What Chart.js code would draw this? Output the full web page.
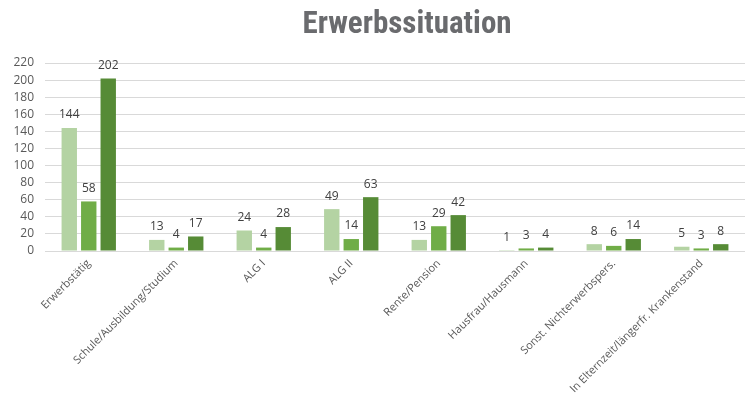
<!DOCTYPE html>
<html>
<head>
<meta charset="utf-8">
<script src="https://cdn.jsdelivr.net/npm/chart.js@4/dist/chart.umd.min.js"></script>
<style>
  html, body { margin: 0; padding: 0; background: #fff; }
  #wrap { width: 745px; height: 400px; }
</style>
</head>
<body>
<div id="wrap"><canvas id="c" width="745" height="400"></canvas></div>
<script>
const categories = [
  "Erwerbstätig",
  "Schule/Ausbildung/Studium",
  "ALG I",
  "ALG II",
  "Rente/Pension",
  "Hausfrau/Hausmann",
  "Sonst. Nichterwerbspers.",
  "In Elternzeit/längerfr. Krankenstand"
];
const seriesA = [144, 13, 24, 49, 13, 1, 8, 5];
const seriesB = [58, 4, 4, 14, 29, 3, 6, 3];
const seriesC = [202, 17, 28, 63, 42, 4, 14, 8];
const yTicks = [0, 20, 40, 60, 80, 100, 120, 140, 160, 180, 200, 220];
const titleText = 'Erwerbssituation';

const valueLabels = {
  id: 'valueLabels',
  afterDatasetsDraw(chart) {
    const ctx = chart.ctx;
    ctx.save();
    ctx.font = '12px "Open Sans", "Noto Sans", sans-serif';
    ctx.fillStyle = '#404040';
    ctx.textAlign = 'center';
    ctx.textBaseline = 'middle';
    chart.data.datasets.forEach((ds, i) => {
      const meta = chart.getDatasetMeta(i);
      meta.data.forEach((bar, j) => {
        ctx.fillText(String(ds.data[j]), bar.x, bar.y - 13);
      });
    });
    ctx.restore();
  }
};

const titleDraw = {
  id: 'titleDraw',
  afterDraw(chart) {
    const ctx = chart.ctx;
    ctx.save();
    ctx.font = 'bold 31px "Liberation Sans Narrow", "Roboto Condensed", "DejaVu Sans Condensed", sans-serif';
    ctx.fillStyle = '#6a6b6e';
    ctx.textAlign = 'center';
    ctx.textBaseline = 'alphabetic';
    ctx.fillText(titleText, 407, 33);
    ctx.restore();
  }
};

new Chart(document.getElementById('c'), {
  type: 'bar',
  data: {
    labels: categories,
    datasets: [
      { label: 'A', data: seriesA, backgroundColor: '#b4d3a3' },
      { label: 'B', data: seriesB, backgroundColor: '#70ad47' },
      { label: 'C', data: seriesC, backgroundColor: '#568b36' }
    ]
  },
  options: {
    responsive: false,
    animation: false,
    devicePixelRatio: 1,
    layout: { padding: { left: 0, right: 0, top: 0, bottom: 0 } },
    datasets: { bar: { categoryPercentage: 0.668, barPercentage: 0.79 } },
    plugins: {
      legend: { display: false },
      tooltip: { enabled: false },
      title: {
        display: true,
        text: titleText,
        color: 'rgba(0,0,0,0)',
        font: { family: '"Liberation Sans Narrow", sans-serif', size: 30, weight: 'bold' },
        padding: { top: 4, bottom: 23 }
      }
    },
    scales: {
      x: {
        grid: { display: false, drawTicks: false },
        border: { display: true, color: '#d9d9d9', width: 1 },
        ticks: {
          color: '#595959',
          font: { family: '"Open Sans", "Noto Sans", sans-serif', size: 11 },
          maxRotation: 45, minRotation: 45, autoSkip: false, padding: 6
        },
        afterFit(scale) { scale.height = 149; }
      },
      y: {
        min: 0, max: 220,
        afterBuildTicks(scale) { scale.ticks = yTicks.map(v => ({ value: v })); },
        grid: { color: '#d9d9d9', drawTicks: false, lineWidth: 1 },
        border: { display: false },
        ticks: {
          color: '#595959',
          font: { family: '"Open Sans", "Noto Sans", sans-serif', size: 12 },
          padding: 11,
          autoSkip: false
        },
        afterFit(scale) { scale.width = 45; }
      }
    }
  },
  plugins: [valueLabels, titleDraw]
});
</script>
</body>
</html>
